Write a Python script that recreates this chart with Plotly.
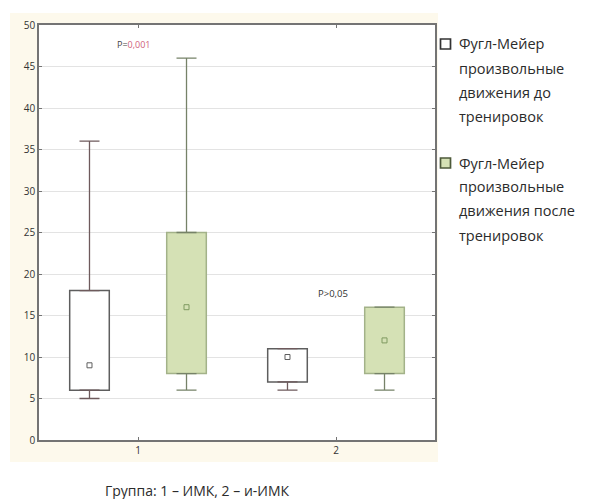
import numpy as np
import plotly.graph_objects as go

# Groups on the x axis
groups = [1, 2]
group_labels = ["1", "2"]

# Fugl-Meyer voluntary movements, before training: min, Q1, median, Q3, max
before_min = [5, 6]
before_q1 = [6, 7]
before_median = [9, 10]
before_q3 = [18, 11]
before_max = [36, 11]

# Fugl-Meyer voluntary movements, after training
after_min = [6, 6]
after_q1 = [8, 8]
after_median = [16, 12]
after_q3 = [25, 16]
after_max = [46, 16]

series_names = [
    ["Фугл-Мейер", "произвольные", "движения до", "тренировок"],
    ["Фугл-Мейер", "произвольные", "движения после", "тренировок"],
]

x_title = "Группа: 1 – ИМК, 2 – и-ИМК"

FONT = "Open Sans"
TEXT = "#2b2b2b"
GREEN_FILL = "#d5e1b5"

# figure and plot-area geometry in pixels
W, H = 605, 499
PL, PR, PT, PB = 39, 435, 25, 440


def px(x):
    """pixel column -> paper x (paper spans the plot area)"""
    return (x - PL) / (PR - PL)


def py(y):
    """pixel row -> paper y"""
    return (PB - y) / (PB - PT)


styles = [
    dict(offset=-0.245, fill="#ffffff", border="#5e5e5e", whisker="#6e5a5c",
         marker="#5e5e5e"),
    dict(offset=0.245, fill=GREEN_FILL, border="#a3b289", whisker="#768268",
         marker="#7f9a60"),
]

data = [
    (before_min, before_q1, before_median, before_q3, before_max),
    (after_min, after_q1, after_median, after_q3, after_max),
]

fig = go.Figure()

for (mn, q1, med, q3, mx), st in zip(data, styles):
    mn, q1, med, q3, mx = map(np.asarray, (mn, q1, med, q3, mx))
    xs = np.asarray(groups, dtype=float) + st["offset"]
    # upper whisker: from Q3 up to the maximum
    fig.add_trace(go.Scatter(
        x=xs, y=q3, mode="markers", showlegend=False, hoverinfo="skip",
        marker=dict(size=1, color="rgba(0,0,0,0)"),
        error_y=dict(type="data", symmetric=False, array=mx - q3,
                     arrayminus=np.zeros_like(q3), width=10, thickness=1.3,
                     color=st["whisker"]),
    ))
    # lower whisker: from Q1 down to the minimum
    fig.add_trace(go.Scatter(
        x=xs, y=q1, mode="markers", showlegend=False, hoverinfo="skip",
        marker=dict(size=1, color="rgba(0,0,0,0)"),
        error_y=dict(type="data", symmetric=False, array=np.zeros_like(q1),
                     arrayminus=q1 - mn, width=10, thickness=1.3,
                     color=st["whisker"]),
    ))
    # box: interquartile range
    fig.add_trace(go.Bar(
        x=xs, y=q3 - q1, base=q1, width=0.2, showlegend=False,
        marker=dict(color=st["fill"], line=dict(color=st["border"], width=1.5)),
    ))
    # median marker
    fig.add_trace(go.Scatter(
        x=xs, y=med, mode="markers", showlegend=False,
        marker=dict(symbol="square-open", size=5, color=st["marker"],
                    line=dict(width=1)),
    ))

fig.update_layout(barmode="overlay")

# significance labels
fig.add_annotation(x=0.975, y=47.6, xref="x", yref="y", showarrow=False,
                   text="<span style='color:#444'>P=</span><span style='color:#d0607a'>0,001</span>",
                   font=dict(family=FONT, size=9))
fig.add_annotation(x=1.985, y=17.6, xref="x", yref="y", showarrow=False,
                   text="P>0,05", font=dict(family=FONT, size=9.5, color="#333"))

# axis title below the chart
fig.add_annotation(x=px(197), y=py(490), xref="paper", yref="paper",
                   showarrow=False, text=x_title, yanchor="middle",
                   font=dict(family=FONT, size=14, color=TEXT))

# legend: swatches and wrapped labels
legend_fills = ["#ffffff", GREEN_FILL]
legend_borders = ["#333333", "#4d5a3a"]
legend_tops = [44, 163]
line_step = 24
for names, top, fill, border in zip(series_names, legend_tops, legend_fills, legend_borders):
    fig.add_shape(type="rect", xref="paper", yref="paper",
                  x0=px(440.5), x1=px(450.5), y0=py(top - 5), y1=py(top + 5),
                  fillcolor=fill, line=dict(color=border, width=1.7))
    for i, line in enumerate(names):
        fig.add_annotation(x=px(457), y=py(top + i * line_step),
                           xref="paper", yref="paper", xanchor="left", yanchor="middle",
                           showarrow=False, text=line,
                           font=dict(family=FONT, size=14.5, color=TEXT))

# cream panel behind the axes, with the plot area kept white
fig.add_shape(type="rect", xref="paper", yref="paper", layer="below",
              x0=px(10), x1=px(438), y0=py(13), y1=py(462),
              fillcolor="#fdf9ec", line=dict(width=0))
fig.add_shape(type="rect", xref="paper", yref="paper", layer="below",
              x0=0, x1=1, y0=0, y1=1,
              fillcolor="#ffffff", line=dict(width=0))

fig.update_layout(
    width=W, height=H,
    margin=dict(l=PL, r=W - PR, t=PT, b=H - PB),
    paper_bgcolor="#ffffff", plot_bgcolor="#ffffff",
    font=dict(family=FONT, color=TEXT),
    showlegend=False,
)
fig.update_xaxes(range=[0.5, 2.5], tickvals=groups, ticktext=group_labels,
                 showgrid=False, zeroline=False, showline=True, linecolor="#747474",
                 linewidth=1.5, mirror="ticks", ticks="inside", ticklen=3,
                 tickcolor="#747474", tickfont=dict(size=10, color="#333"))
fig.update_yaxes(range=[0, 50], dtick=5, showgrid=True, gridcolor="#e3e3e3",
                 gridwidth=1, zeroline=False, showline=True, linecolor="#747474",
                 linewidth=1.5, mirror="ticks", ticks="inside", ticklen=3,
                 tickcolor="#747474", tickfont=dict(size=10, color="#333"))

fig.write_html("out.html")
